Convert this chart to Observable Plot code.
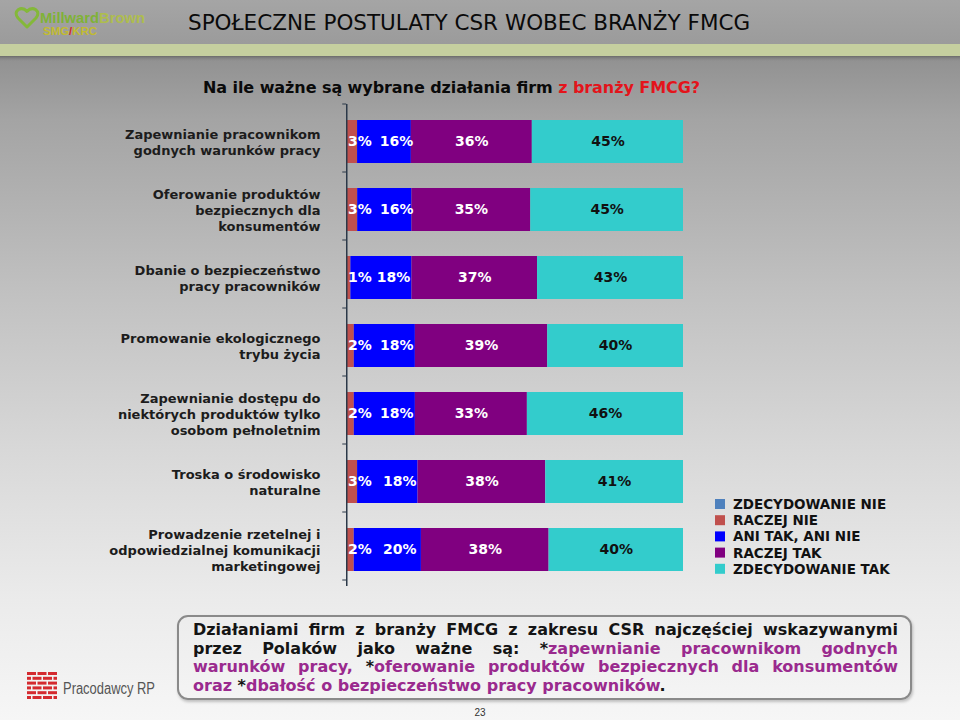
<!DOCTYPE html>
<html lang="pl">
<head>
<meta charset="utf-8">
<script src="https://cdn.jsdelivr.net/npm/d3@7"></script>
<script src="https://cdn.jsdelivr.net/npm/@observablehq/plot@0.6"></script>
<style>
html,body{margin:0;padding:0;width:960px;height:720px;overflow:hidden}
body{position:relative;font-family:"DejaVu Sans",Verdana,sans-serif;
background:linear-gradient(to bottom,#a0a0a0 0px,#9c9c9c 44px,#929292 60px,#a4a4a4 120px,#c2c2c2 300px,#d8d8d8 450px,#ebebeb 600px,#f6f6f6 720px);}
#deco{position:absolute;left:0;top:0}
#chart{position:absolute;left:0;top:90px}
#box{position:absolute;left:177px;top:615px;width:735px;height:85px;box-sizing:border-box;border:2px solid #8a8a8a;border-radius:11px;padding:4px 12px 0 14px;font-weight:bold;font-size:16px;line-height:18.5px;color:#141414;box-shadow:1px 2px 3px rgba(0,0,0,0.22)}
#box .j{text-align:justify;text-align-last:justify}
#box .m{color:#9a2a8e}
</style>
</head>
<body>
<svg id="deco" width="960" height="720" xmlns="http://www.w3.org/2000/svg">
  <defs>
    <linearGradient id="hdr" x1="0" y1="0" x2="0" y2="1">
      <stop offset="0" stop-color="#a5a5a5"/><stop offset="1" stop-color="#9b9b9b"/>
    </linearGradient>
    <linearGradient id="shd" x1="0" y1="0" x2="0" y2="1">
      <stop offset="0" stop-color="#6a6a6a"/><stop offset="1" stop-color="#929292" stop-opacity="0"/>
    </linearGradient>
  </defs>
  <rect x="0" y="0" width="960" height="44" fill="url(#hdr)"/>
  <rect x="0" y="44" width="960" height="12" fill="#c5cf9f"/>
  <rect x="0" y="56" width="960" height="6" fill="url(#shd)"/>
  <path d="M27 27 L18 18 Q14 13 18.5 9.5 Q23 7 27 11.5 Q31 7 35.5 9.5 Q40 13 36 18 Z" fill="none" stroke="#84b83a" stroke-width="3" stroke-linejoin="round"/>
  <text x="40" y="23" font-family="Liberation Sans, Arial, sans-serif" font-weight="bold" font-size="15" textLength="105" lengthAdjust="spacingAndGlyphs"><tspan fill="#7fb236">Millward</tspan><tspan fill="#aebd4e">Brown</tspan></text>
  <text x="43" y="35" font-family="Liberation Sans, Arial, sans-serif" font-weight="bold" font-size="10.5" textLength="54" lengthAdjust="spacingAndGlyphs" fill="#c2bb30">SMG<tspan fill="#d42a2a">/</tspan>KRC</text>
  <text x="188" y="30" font-family="DejaVu Sans, Verdana, sans-serif" font-size="21.5" fill="#0a0a0a">SPOŁECZNE POSTULATY CSR WOBEC BRANŻY FMCG</text>
  <text x="203" y="93" font-family="DejaVu Sans, Verdana, sans-serif" font-weight="bold" font-size="16" fill="#0a0a0a" textLength="497" lengthAdjust="spacing">Na ile ważne są wybrane działania firm <tspan fill="#e3141b">z branży FMCG?</tspan></text>
  <g id="pracLogo" fill="#d42a2f"></g>
  <text x="63" y="694" font-family="Liberation Sans Narrow, Liberation Sans, Arial, sans-serif" font-size="16" fill="#555" textLength="92" lengthAdjust="spacingAndGlyphs">Pracodawcy RP</text>
  <text x="480" y="716" text-anchor="middle" font-family="Liberation Sans Narrow, Liberation Sans, Arial, sans-serif" font-size="10" fill="#333">23</text>
  <g id="legend"></g>
</svg>
<div id="chart"></div>
<div id="box">
  <div class="j">Działaniami firm z branży FMCG z zakresu CSR najczęściej wskazywanymi</div>
  <div class="j">przez Polaków jako ważne są: *<span class="m">zapewnianie pracownikom godnych</span></div>
  <div class="j"><span class="m">warunków pracy, </span>*<span class="m">oferowanie produktów bezpiecznych dla konsumentów</span></div>
  <div><span class="m">oraz </span>*<span class="m">dbałość o bezpieczeństwo pracy pracowników</span>.</div>
</div>
<script>
// ---- data ----
const categories = [
  "Zapewnianie pracownikom\ngodnych warunków pracy",
  "Oferowanie produktów\nbezpiecznych dla\nkonsumentów",
  "Dbanie o bezpieczeństwo\npracy pracowników",
  "Promowanie ekologicznego\ntrybu życia",
  "Zapewnianie dostępu do\nniektórych produktów tylko\nosobom pełnoletnim",
  "Troska o środowisko\nnaturalne",
  "Prowadzenie rzetelnej i\nodpowiedzialnej komunikacji\nmarketingowej"
];
const responses = ["ZDECYDOWANIE NIE", "RACZEJ NIE", "ANI TAK, ANI NIE", "RACZEJ TAK", "ZDECYDOWANIE TAK"];
const colors = ["#4f81bd", "#c0504d", "#0000ff", "#800080", "#33cccc"];
const zdecydowanieNie = [0, 0, 0, 0, 0, 0, 0];
const raczejNie = [3, 3, 1, 2, 2, 3, 2];
const aniTakAniNie = [16, 16, 18, 18, 18, 18, 20];
const raczejTak = [36, 35, 37, 39, 33, 38, 38];
const zdecydowanieTak = [45, 45, 43, 40, 46, 41, 40];

const series = [zdecydowanieNie, raczejNie, aniTakAniNie, raczejTak, zdecydowanieTak];
const rows = [];
categories.forEach((cat, i) => {
  responses.forEach((resp, j) => rows.push({cat, resp, value: series[j][i]}));
});

const base = {x: "value", y: "cat", z: "resp", offset: "normalize"};
const lbl = (k) => (d) => d.resp === responses[k] ? d.value + "%" : null;
const txt = {fontSize: 14, fontWeight: "bold"};

const chart = Plot.plot({
  width: 700,
  height: 510,
  marginLeft: 347,
  marginRight: 17,
  marginTop: 14,
  marginBottom: 14,
  style: {background: "transparent", fontFamily: '"DejaVu Sans", Verdana, sans-serif', overflow: "visible"},
  x: {domain: [0, 1], axis: null},
  y: {domain: categories, paddingInner: 0.375, paddingOuter: 0.1875, label: null},
  color: {domain: responses, range: colors},
  marks: [
    Plot.barX(rows, Plot.stackX({...base, fill: "resp"})),
    Plot.text(rows, Plot.stackX1({...base, ...txt, text: lbl(1), textAnchor: "start", dx: 0.5, fill: "white"})),
    Plot.text(rows, Plot.stackX({...base, ...txt, text: lbl(2), dx: 12, fill: "white"})),
    Plot.text(rows, Plot.stackX({...base, ...txt, text: lbl(3), fill: "white"})),
    Plot.text(rows, Plot.stackX({...base, ...txt, text: lbl(4), fill: "#111"})),
    Plot.ruleX([0], {stroke: "#2b3848", strokeWidth: 1.5, dx: -0.75}),
    Plot.axisY({tickSize: 0, tickPadding: 27, fontSize: 13, fontWeight: "bold", fill: "#1c1c1c", lineHeight: 1.22, label: null})
  ]
});
document.getElementById("chart").appendChild(chart);

// small tick marks on the category axis at band boundaries (from the y scale)
const ys = chart.scale("y");
const xs = chart.scale("x");
const ax = xs.apply(0) - 0.75;
const sel = d3.select(chart);
const tg = sel.append("g").attr("stroke", "#2b3848").attr("stroke-width", 1);
for (let k = 0; k <= categories.length; k++) {
  const yy = ys.range[0] + k * ys.step;
  tg.append("line").attr("x1", ax - 4).attr("x2", ax).attr("y1", yy).attr("y2", yy);
}

// legend
const lg = d3.select("#legend");
responses.forEach((r, i) => {
  const cy = 504 + i * 16.2;
  lg.append("rect").attr("x", 715).attr("y", cy - 5).attr("width", 10).attr("height", 10).attr("fill", colors[i]);
  lg.append("text").attr("x", 733).attr("y", cy + 5).attr("font-family", '"DejaVu Sans", Verdana, sans-serif')
    .attr("font-size", 13.5).attr("font-weight", "bold").attr("fill", "#111").text(r);
});

// Pracodawcy RP brick logo (decoration)
const pg = d3.select("#pracLogo");
for (let r = 0; r < 6; r++) {
  const y = 672 + r * 4.8;
  const xsB = r % 2 === 0 ? [[27, 36], [37.5, 46.5], [48, 57]] : [[27, 31], [32.5, 41.5], [43, 52], [53.5, 57]];
  xsB.forEach(([a, b]) => pg.append("rect").attr("x", a).attr("y", y).attr("width", b - a).attr("height", 3));
}
</script>
</body>
</html>
